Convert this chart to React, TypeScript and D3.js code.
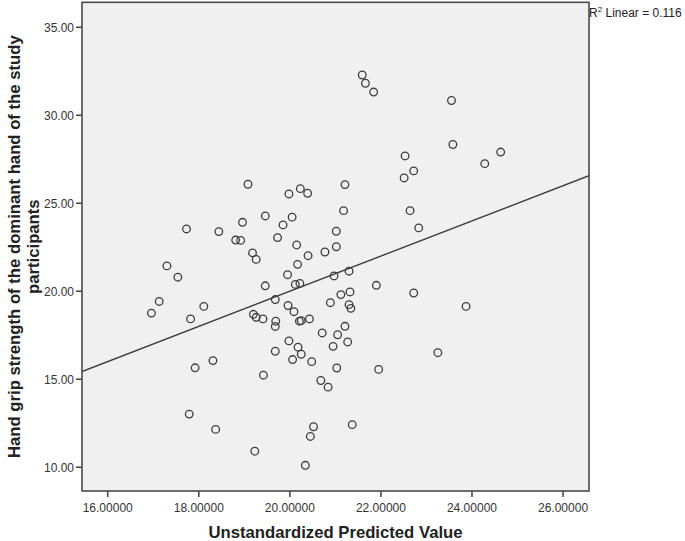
import React from "react";
import * as d3 from "d3";

const predicted: number[] = [
  21.59, 21.66, 21.84, 23.55, 23.58, 24.63, 24.28, 22.53, 22.72, 22.51,
  21.21, 19.08, 20.23, 19.98, 20.39, 21.18, 22.64, 19.46, 20.05, 18.96,
  19.85, 22.83, 17.73, 18.44, 21.02, 18.81, 18.92, 19.73, 20.15, 21.02,
  20.77, 19.18, 19.26, 20.40, 20.17, 17.30, 19.95, 20.97, 21.30, 17.54,
  19.46, 20.12, 20.22, 21.90, 22.72, 21.12, 21.32, 19.68, 17.13, 20.89,
  21.30, 21.34, 19.96, 23.87, 18.11, 16.96, 19.20, 20.09, 19.26, 17.82,
  19.41, 19.69, 19.68, 20.21, 20.25, 20.43, 21.21, 20.71, 21.05, 19.98,
  20.95, 21.27, 20.18, 19.68, 23.25, 20.25, 20.06, 18.31, 20.48, 17.92,
  21.03, 21.95, 19.42, 20.68, 20.84, 17.79, 20.52, 21.37, 18.37, 20.45,
  19.23, 20.34,
];

const gripStrength: number[] = [
  32.29, 31.82, 31.32, 30.84, 28.34, 27.91, 27.25, 27.69, 26.84, 26.44,
  26.06, 26.08, 25.83, 25.53, 25.57, 24.58, 24.58, 24.28, 24.21, 23.92,
  23.77, 23.60, 23.54, 23.39, 23.41, 22.91, 22.89, 23.05, 22.63, 22.53,
  22.23, 22.18, 21.81, 22.02, 21.53, 21.44, 20.94, 20.87, 21.14, 20.80,
  20.31, 20.39, 20.45, 20.34, 19.90, 19.81, 19.96, 19.53, 19.42, 19.35,
  19.24, 19.03, 19.19, 19.14, 19.14, 18.76, 18.69, 18.84, 18.52, 18.43,
  18.43, 18.30, 18.00, 18.30, 18.33, 18.43, 18.01, 17.63, 17.53, 17.18,
  16.87, 17.12, 16.82, 16.59, 16.51, 16.42, 16.12, 16.06, 16.00, 15.65,
  15.64, 15.56, 15.23, 14.93, 14.55, 13.02, 12.30, 12.42, 12.15, 11.75,
  10.91, 10.11,
];

const xTicks: number[] = [16, 18, 20, 22, 24, 26];
const yTicks: number[] = [10, 15, 20, 25, 30, 35];
const xDomain: [number, number] = [15.435, 26.57];
const yDomain: [number, number] = [8.65, 36.42];
// Linear fit line: intercept, slope
const fitIntercept = 0;
const fitSlope = 1;
const r2Text = "0.116";

const xTitle = "Unstandardized Predicted Value";
const yTitleLines = ["Hand grip strength of the dominant hand of the study", "participants"];

export default function App() {
  const W = 685;
  const H = 541;
  const left = 82;
  const right = 589;
  const top = 2.3;
  const bottom = 491;
  const x = d3.scaleLinear().domain(xDomain).range([left, right]);
  const y = d3.scaleLinear().domain(yDomain).range([bottom, top]);
  const ink = "#4a4a4a";
  const font = "'Liberation Sans', Arial, sans-serif";
  const lineGen = d3
    .line<number>()
    .x((d) => x(d))
    .y((d) => y(fitIntercept + fitSlope * d));
  const data = predicted.map((p, i) => ({ p, g: gripStrength[i] }));

  return (
    <svg
      width={W}
      height={H}
      style={{ position: "absolute", left: 0, top: 0, background: "#fff" }}
      fontFamily={font}
    >
      <rect x={left} y={top} width={right - left} height={bottom - top} fill="#f0f0f0" />
      <defs>
        <clipPath id="plotclip">
          <rect x={left} y={top} width={right - left} height={bottom - top} />
        </clipPath>
      </defs>
      <path
        d={lineGen(xDomain) || ""}
        stroke="#3c3c3c"
        strokeWidth={1.4}
        fill="none"
        clipPath="url(#plotclip)"
      />
      {data.map((d, i) => (
        <circle
          key={i}
          cx={x(d.p)}
          cy={y(d.g)}
          r={3.8}
          fill="none"
          stroke="#3c3c3c"
          strokeWidth={1.3}
        />
      ))}
      <rect
        x={left}
        y={top}
        width={right - left}
        height={bottom - top}
        fill="none"
        stroke={ink}
        strokeWidth={1.6}
      />
      {yTicks.map((t) => (
        <g key={"y" + t}>
          <line x1={left - 6} x2={left} y1={y(t)} y2={y(t)} stroke={ink} strokeWidth={1.6} />
          <text x={left - 8} y={y(t)} dy="0.36em" textAnchor="end" fontSize={12} fill="#333">
            {t.toFixed(2)}
          </text>
        </g>
      ))}
      {xTicks.map((t) => (
        <g key={"x" + t}>
          <line x1={x(t)} x2={x(t)} y1={bottom} y2={bottom + 6} stroke={ink} strokeWidth={1.6} />
          <text x={x(t)} y={bottom + 21} textAnchor="middle" fontSize={12} fill="#333">
            {t.toFixed(5)}
          </text>
        </g>
      ))}
      <text
        x={(left + right) / 2}
        y={537.5}
        textAnchor="middle"
        fontSize={16.7}
        fontWeight="bold"
        fill="#222"
      >
        {xTitle}
      </text>
      {yTitleLines.map((line, i) => (
        <text
          key={i}
          transform={`translate(${20 + i * 19},${(top + bottom) / 2}) rotate(-90)`}
          textAnchor="middle"
          fontSize={16.7}
          fontWeight="bold"
          fill="#222"
        >
          {line}
        </text>
      ))}
      <text x={589} y={16.7} fontSize={12} fill="#222">
        R<tspan fontSize={8} dy={-4.5}>2</tspan>
        <tspan dy={4.5}> Linear = {r2Text}</tspan>
      </text>
    </svg>
  );
}
